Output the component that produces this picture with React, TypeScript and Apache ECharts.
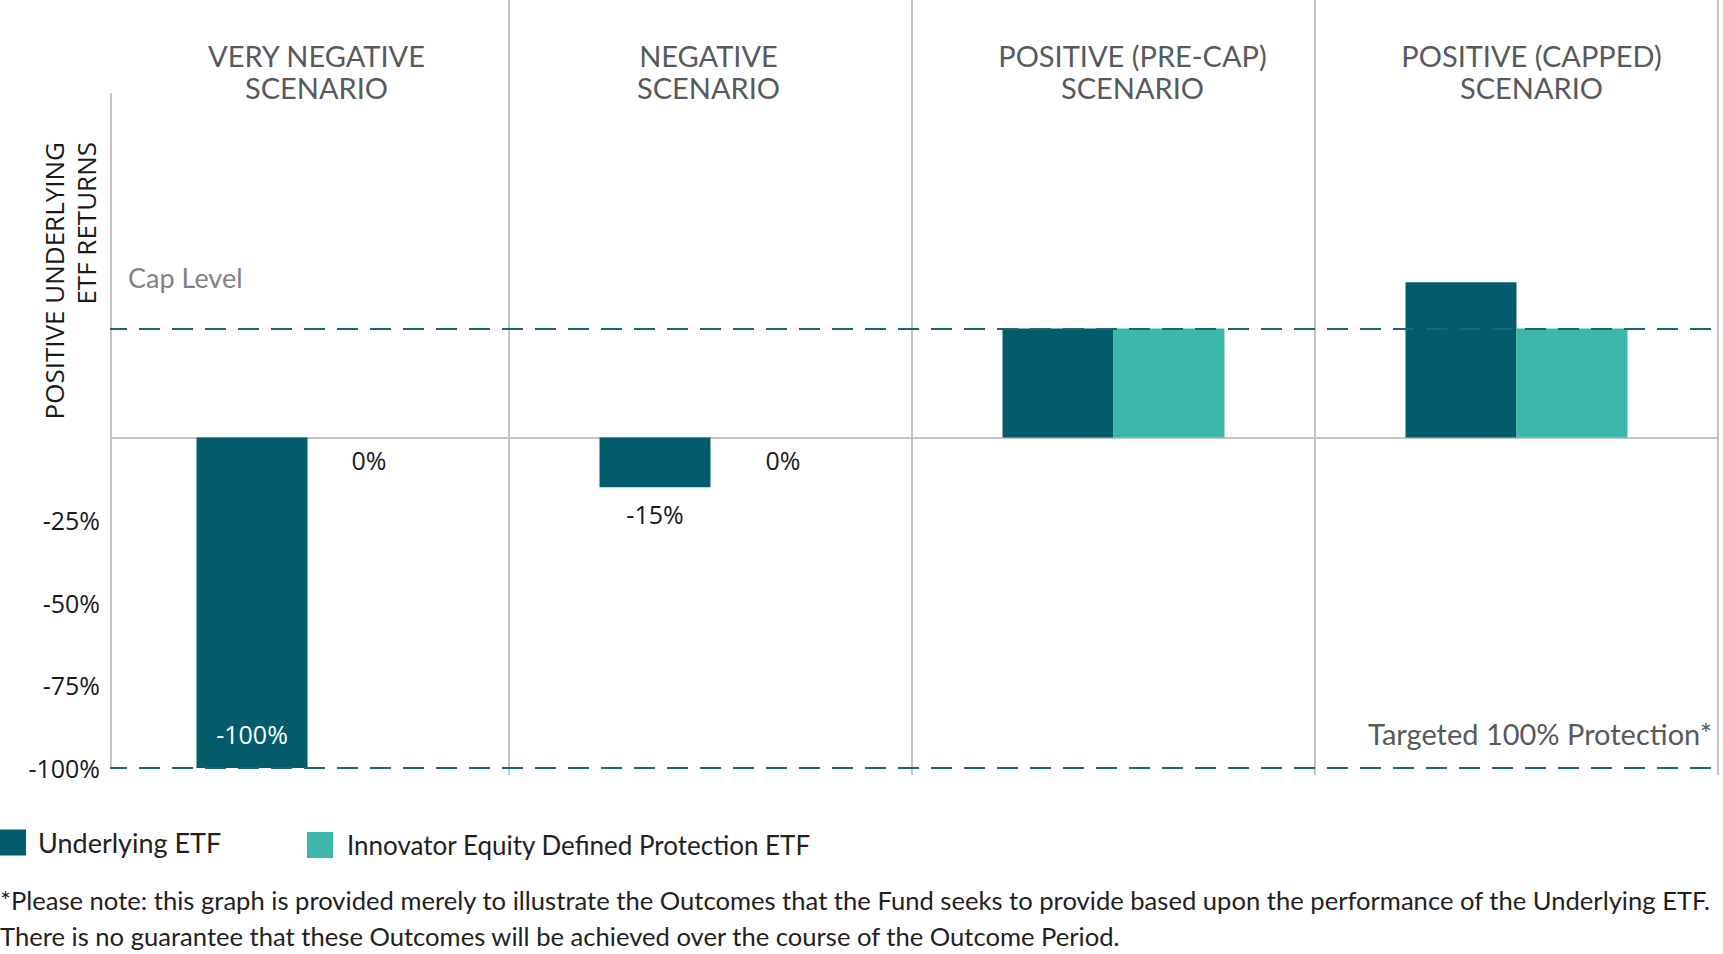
import React, { useEffect, useRef } from 'react';
import * as echarts from 'echarts';

const categories = [
  'VERY NEGATIVE\nSCENARIO',
  'NEGATIVE\nSCENARIO',
  'POSITIVE (PRE-CAP)\nSCENARIO',
  'POSITIVE (CAPPED)\nSCENARIO',
];
const seriesNames = ['Underlying ETF', 'Innovator Equity Defined Protection ETF'];
const underlyingValues = [-100, -15, 33, 47];
const protectionValues = [0, 0, 33, 33];
const capLevel = 33;
const protectionLevel = -100;
const yAxisName = 'POSITIVE UNDERLYING\nETF RETURNS';
const capLabel = 'Cap Level';
const protectionLabel = 'Targeted 100% Protection*';
const footnoteLines = [
  '*Please note: this graph is provided merely to illustrate the Outcomes that the Fund seeks to provide based upon the performance of the Underlying ETF.',
  'There is no guarantee that these Outcomes will be achieved over the course of the Outcome Period.',
];

const DARK = '#035c6c';
const LIGHT = '#3cb7aa';
const DASH = '#1d6575';
const GRAY_LINE = '#c4c4c4';
const HEAD_FONT = 'Lato, "Open Sans", sans-serif';
const NUM_FONT = '"Open Sans", "Noto Sans", sans-serif';

// per-heading horizontal nudges (padding) to match the reference's placement
const headingPadding = [
  [0, 0, 0, 18],
  [0, 4, 0, 0],
  [0, 0, 0, 38],
  [0, 0, 0, 30],
];

export default function App() {
  const ref = useRef<HTMLDivElement>(null);

  useEffect(() => {
    if (!ref.current) return;
    const chart = echarts.init(ref.current, undefined, { renderer: 'svg' });

    const underlyingData = underlyingValues.map((v) => {
      if (v > 0) return v;
      if (v <= -100) {
        return {
          value: v,
          label: { show: true, position: 'insideBottom', distance: 22, color: '#ffffff' },
        };
      }
      return { value: v, label: { show: true, position: 'bottom', distance: 14 } };
    });
    const protectionData = protectionValues.map((v, i) => {
      if (v > 0) return v;
      return {
        value: v,
        label: { show: true, position: 'bottom', distance: 10, offset: i === 1 ? [17, 0] : [6, 0] },
      };
    });

    const labelCommon = {
      show: false,
      fontFamily: NUM_FONT,
      fontSize: 25,
      color: '#1a1a1a',
      formatter: (p: any) => `${p.value}%`,
    };

    const headingData = categories.map((c, i) => ({
      value: c,
      textStyle: { padding: headingPadding[i] },
    }));

    chart.setOption({
      animation: false,
      backgroundColor: '#ffffff',
      textStyle: { fontFamily: HEAD_FONT },
      grid: [
        { left: 106, right: 5, top: 94, bottom: 186 },
        { left: 106, right: 5, top: 0, bottom: 179 },
      ],
      legend: [
        {
          data: [seriesNames[0]],
          left: 0,
          top: 829,
          padding: 0,
          icon: 'rect',
          itemWidth: 26,
          itemHeight: 26,
          textStyle: { fontFamily: HEAD_FONT, fontSize: 27, color: '#231f20', padding: [0, 0, 0, 7] },
        },
        {
          data: [seriesNames[1]],
          left: 307,
          top: 832,
          padding: 0,
          icon: 'rect',
          itemWidth: 26,
          itemHeight: 26,
          textStyle: { fontFamily: HEAD_FONT, fontSize: 26, color: '#231f20', padding: [0, 0, 0, 9] },
        },
      ],
      xAxis: [
        {
          type: 'category',
          gridIndex: 0,
          data: categories,
          axisLine: { show: true, onZero: true, lineStyle: { color: GRAY_LINE, width: 2 } },
          axisTick: { show: false },
          axisLabel: { show: false },
          splitLine: { show: false },
        },
        {
          type: 'category',
          gridIndex: 1,
          data: headingData,
          position: 'top',
          axisLine: { show: false },
          axisTick: { show: false },
          axisLabel: {
            show: true,
            inside: true,
            margin: 39,
            fontFamily: HEAD_FONT,
            fontSize: 29,
            lineHeight: 32,
            color: '#58595b',
            align: 'center',
          },
          splitLine: {
            show: true,
            interval: (index: number) => index > 0,
            lineStyle: { color: GRAY_LINE, width: 2 },
          },
        },
      ],
      yAxis: [
        {
          type: 'value',
          gridIndex: 0,
          min: -100,
          max: 104,
          interval: 25,
          offset: -5,
          axisLine: { show: true, lineStyle: { color: GRAY_LINE, width: 2 } },
          axisTick: { show: false },
          splitLine: { show: false },
          axisLabel: {
            show: true,
            margin: 11,
            fontFamily: NUM_FONT,
            fontSize: 25,
            color: '#1a1a1a',
            showMaxLabel: false,
            formatter: (v: number) => (v < 0 ? `${v}%` : ''),
          },
        },
        {
          type: 'value',
          gridIndex: 1,
          min: 0,
          max: 1,
          show: false,
        },
      ],
      series: [
        {
          name: seriesNames[0],
          type: 'bar',
          xAxisIndex: 0,
          yAxisIndex: 0,
          data: underlyingData,
          barWidth: 111,
          barGap: '0%',
          itemStyle: { color: DARK },
          label: labelCommon,
          markLine: {
            silent: true,
            symbol: 'none',
            label: { show: false },
            lineStyle: { color: DASH, width: 2, type: [21, 12] },
            data: [{ yAxis: capLevel }, { yAxis: protectionLevel }],
          },
        },
        {
          name: seriesNames[1],
          type: 'bar',
          xAxisIndex: 0,
          yAxisIndex: 0,
          data: protectionData,
          barWidth: 111,
          barGap: '0%',
          itemStyle: { color: LIGHT },
          label: labelCommon,
        },
      ],
    });

    const yCap = chart.convertToPixel({ yAxisIndex: 0 }, capLevel) as number;
    const yProt = chart.convertToPixel({ yAxisIndex: 0 }, protectionLevel) as number;

    chart.setOption({
      graphic: [
        {
          // masks the few pixels of the horizontal lines left of the offset y-axis line
          type: 'rect',
          silent: true,
          z: 100,
          shape: { x: 104, y: 300, width: 6, height: 480 },
          style: { fill: '#ffffff' },
        },
        {
          type: 'text',
          x: 70,
          y: 142,
          rotation: Math.PI / 2,
          style: {
            text: yAxisName,
            align: 'right',
            verticalAlign: 'middle',
            fontFamily: NUM_FONT,
            fontSize: 26,
            lineHeight: 32,
            fill: '#1a1a1a',
          },
        },
        {
          type: 'text',
          x: 128,
          y: yCap - 51,
          style: {
            text: capLabel,
            align: 'left',
            verticalAlign: 'middle',
            fontFamily: HEAD_FONT,
            fontSize: 27,
            fill: '#808285',
          },
        },
        {
          type: 'text',
          x: 1712,
          y: yProt - 35,
          style: {
            text: protectionLabel,
            align: 'right',
            verticalAlign: 'middle',
            fontFamily: HEAD_FONT,
            fontSize: 29,
            fill: '#58595b',
          },
        },
        {
          type: 'text',
          x: 0,
          y: 882,
          style: {
            text: footnoteLines.join('\n'),
            align: 'left',
            verticalAlign: 'top',
            fontFamily: HEAD_FONT,
            fontSize: 25.6,
            lineHeight: 36,
            fill: '#231f20',
          },
        },
      ],
    });

    return () => chart.dispose();
  }, []);

  return (
    <div
      ref={ref}
      style={{ position: 'fixed', left: 0, top: 0, width: 1723, height: 954, background: '#fff' }}
    />
  );
}
